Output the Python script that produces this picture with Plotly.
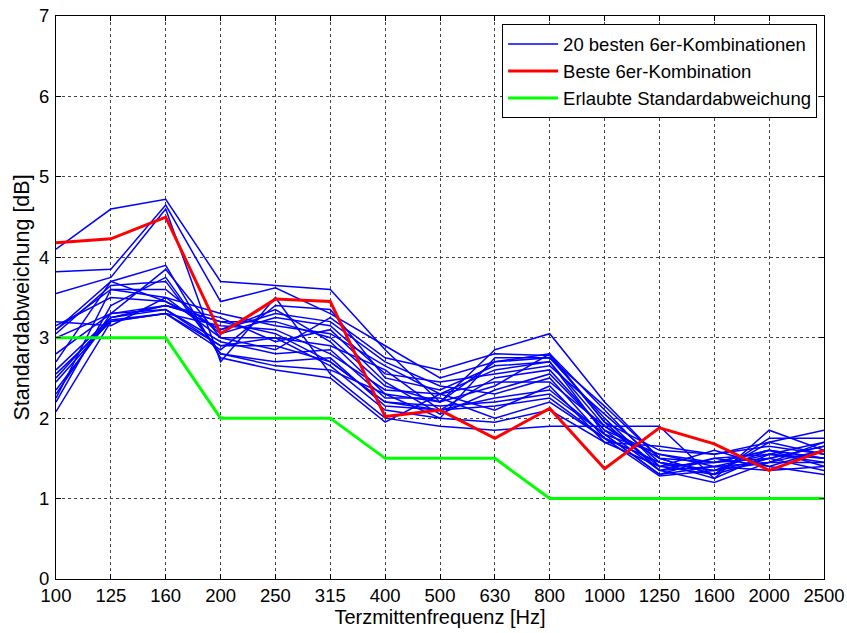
import plotly.graph_objects as go

freqs = ["100", "125", "160", "200", "250", "315", "400", "500", "630", "800",
         "1000", "1250", "1600", "2000", "2500"]

best = [4.18, 4.23, 4.50, 3.05, 3.48, 3.45, 2.02, 2.10, 1.75, 2.12, 1.37, 1.88, 1.68, 1.35, 1.60]
allowed = [3, 3, 3, 2, 2, 2, 1.5, 1.5, 1.5, 1, 1, 1, 1, 1, 1]

# values per frequency for the 20 best combinations (rows = frequency)
blue_by_freq = [
    [4.10, 3.82, 3.55, 3.10, 3.05, 3.10, 3.15, 2.80, 2.60, 2.55, 2.45, 2.35, 2.30, 2.25, 2.20, 2.08, 3.20, 2.70, 3.00, 2.50],
    [4.60, 3.85, 3.75, 3.70, 3.65, 3.60, 3.50, 3.30, 3.25, 3.20, 3.22, 3.25, 3.30, 3.60, 3.40, 3.20, 3.15, 3.70, 3.30, 3.25],
    [4.72, 4.65, 4.60, 3.90, 3.70, 3.50, 3.45, 3.40, 3.35, 3.30, 3.30, 3.40, 3.35, 3.60, 3.75, 3.30, 3.50, 3.45, 3.85, 3.40],
    [3.70, 3.45, 2.70, 2.75, 2.80, 3.00, 3.10, 3.20, 2.90, 2.85, 3.15, 3.25, 2.95, 3.05, 2.80, 2.90, 3.30, 3.10, 3.00, 3.20],
    [3.65, 3.62, 3.50, 2.60, 2.65, 3.00, 3.30, 3.20, 2.90, 3.40, 3.10, 2.95, 2.80, 3.25, 2.70, 3.00, 3.15, 3.35, 2.85, 3.05],
    [3.60, 3.30, 2.55, 2.50, 2.60, 2.90, 3.20, 3.00, 2.70, 3.35, 2.80, 3.10, 2.85, 3.15, 2.75, 2.65, 3.05, 2.95, 3.25, 2.70],
    [2.85, 2.90, 2.00, 1.95, 2.30, 2.60, 2.70, 2.40, 2.20, 2.50, 2.35, 2.45, 2.25, 2.55, 2.15, 2.10, 2.65, 2.30, 2.75, 2.20],
    [2.20, 2.50, 1.90, 2.30, 2.00, 2.10, 2.40, 2.20, 2.15, 2.35, 2.30, 2.05, 2.25, 2.45, 2.10, 2.00, 2.30, 2.20, 2.60, 2.10],
    [2.85, 2.70, 1.85, 2.60, 2.75, 2.50, 2.30, 2.40, 2.20, 2.65, 2.10, 2.35, 2.00, 2.55, 2.25, 1.95, 2.45, 2.70, 2.80, 2.15],
    [3.05, 2.80, 1.90, 2.70, 2.75, 2.60, 2.50, 2.80, 2.30, 2.70, 2.40, 2.55, 2.20, 2.65, 2.35, 2.10, 2.45, 2.75, 2.78, 2.25],
    [2.20, 2.10, 1.90, 1.80, 2.00, 1.85, 1.75, 1.95, 1.80, 1.90, 1.70, 1.85, 1.75, 2.05, 1.80, 1.70, 1.90, 2.15, 1.95, 1.75],
    [1.50, 1.40, 1.90, 1.30, 1.35, 1.55, 1.45, 1.60, 1.30, 1.50, 1.40, 1.35, 1.28, 1.45, 1.55, 1.65, 1.40, 1.50, 1.35, 1.45],
    [1.30, 1.60, 1.25, 1.50, 1.20, 1.45, 1.35, 1.55, 1.40, 1.30, 1.45, 1.50, 1.35, 1.25, 1.40, 1.55, 1.30, 1.45, 1.40, 1.35],
    [1.70, 1.40, 1.85, 1.55, 1.45, 1.60, 1.50, 1.65, 1.35, 1.75, 1.50, 1.40, 1.60, 1.55, 1.45, 1.70, 1.50, 1.60, 1.55, 1.45],
    [1.85, 1.30, 1.60, 1.45, 1.70, 1.50, 1.65, 1.55, 1.40, 1.75, 1.35, 1.60, 1.50, 1.70, 1.45, 1.55, 1.65, 1.40, 1.50, 1.60],
]

fig = go.Figure()
n_series = len(blue_by_freq[0])
for k in range(n_series):
    fig.add_trace(go.Scatter(
        x=freqs, y=[row[k] for row in blue_by_freq], mode="lines",
        line=dict(color="#0000FF", width=1.5),
        name="20 besten 6er-Kombinationen", legendgroup="blue",
        showlegend=(k == 0), hoverinfo="skip"))

fig.add_trace(go.Scatter(x=freqs, y=best, mode="lines",
                         line=dict(color="#FF0000", width=3),
                         name="Beste 6er-Kombination"))
fig.add_trace(go.Scatter(x=freqs, y=allowed, mode="lines",
                         line=dict(color="#00FF00", width=3),
                         name="Erlaubte Standardabweichung"))

font_family = "Liberation Sans, Arial, sans-serif"
axis_common = dict(
    showline=True, linecolor="black", linewidth=1, mirror="allticks",
    ticks="inside", ticklen=5, tickcolor="black",
    showgrid=True, gridcolor="#444444", griddash="dot", gridwidth=1,
    zeroline=False, automargin=False, ticklabeloverflow="allow",
    tickfont=dict(size=18.5, color="black", family=font_family),
)

fig.update_layout(
    width=847, height=633,
    paper_bgcolor="white", plot_bgcolor="white",
    margin=dict(l=56, r=23, t=16, b=54),
    font=dict(family=font_family, color="black"),
    xaxis=dict(**axis_common, type="category", range=[0, len(freqs) - 1],
               ticklabelstandoff=0,
               title=dict(text="Terzmittenfrequenz [Hz]", font=dict(size=20), standoff=2)),
    yaxis=dict(**axis_common, range=[0, 7], dtick=1, ticklabelstandoff=2,
               title=dict(text="Standardabweichung [dB]", font=dict(size=21.5), standoff=3)),
    legend=dict(x=0.991, y=0.985, xanchor="right", yanchor="top",
                bgcolor="white", bordercolor="black", borderwidth=1,
                font=dict(size=18.5, color="black"), tracegroupgap=0,
                itemwidth=50),
    showlegend=True,
)

# remove the default page margin so the 847x633 figure fills the window exactly
fig.write_html("out.html",
               config={"displayModeBar": False},
               post_script="document.body.style.margin='0';"
                           "document.body.style.overflow='hidden';")
